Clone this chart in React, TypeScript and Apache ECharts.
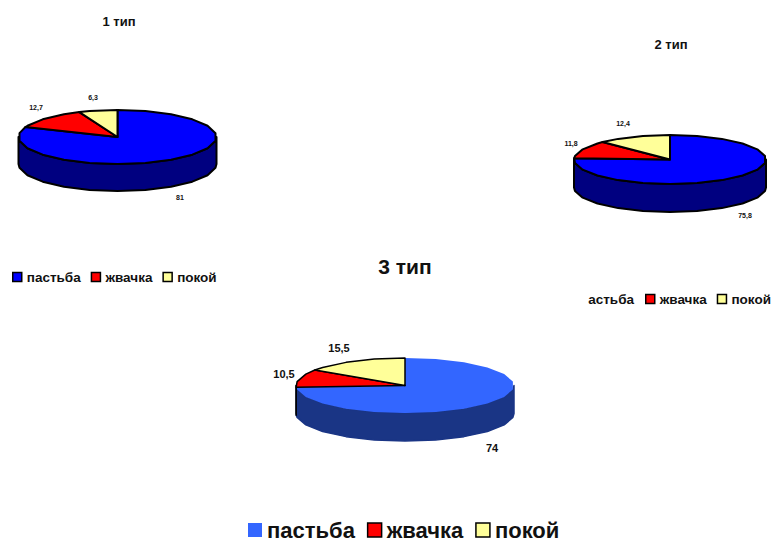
import React, { useEffect, useRef } from "react";
import * as echarts from "echarts";

const categories = ["пастьба", "жвачка", "покой"];
const chartTitles = ["1 тип", "2 тип", "3 тип"];
const pastureValues = [81, 75.8, 74];
const cudValues = [12.7, 11.8, 10.5];
const restValues = [6.3, 12.4, 15.5];
const seriesValues = [pastureValues, cudValues, restValues];

const FONT = '"Liberation Sans", Arial, sans-serif';
const pieLayouts = [
  { cx: 117.5, cy: 137, rx: 99, ry: 27, depth: 27, wall: "#000080", top: ["#0000FF", "#FF0000", "#FFFF99"], stroke: ["#000", "#000", "#000"], lw: 2, fs: 7,
    labels: [[180, 197], [36, 107], [93, 97]] },
  { cx: 670, cy: 159.5, rx: 96, ry: 24.5, depth: 28, wall: "#000080", top: ["#0000FF", "#FF0000", "#FFFF99"], stroke: ["#000", "#000", "#000"], lw: 2, fs: 7,
    labels: [[745, 215], [571, 143], [623, 123]] },
  { cx: 405, cy: 385.5, rx: 109, ry: 27.5, depth: 28, wall: "#1A3585", top: ["#3366FF", "#FF0000", "#FFFF99"], stroke: [null, "#000", "#000"], lw: 1.5, fs: 11,
    labels: [[492, 448], [284, 374], [339, 348]] },
];
const STEP = 360 / 22;

function pt(l: any, deg: number, dy = 0): number[] {
  const a = (deg * Math.PI) / 180;
  return [l.cx + l.rx * Math.sin(a), l.cy - l.ry * Math.cos(a) + dy];
}
function arcAngles(a: number, b: number): number[] {
  const out = [a];
  let k = Math.floor(a / STEP) + 1;
  while (k * STEP < b) {
    out.push(k * STEP);
    k++;
  }
  out.push(b);
  return out;
}

function makeRenderItem(catIdx: number) {
  return (_p: any, api: any) => {
    const chart = api.value(0) as number;
    const value = api.value(1) as number;
    const l = pieLayouts[chart];
    const total = seriesValues.reduce((s, v) => s + v[chart], 0);
    let before = 0;
    for (let i = 0; i < catIdx; i++) before += seriesValues[i][chart];
    const start = (before / total) * 360;
    const end = ((before + value) / total) * 360;
    const children: any[] = [];
    const wa = Math.max(start, 90);
    const wb = Math.min(end, 270);
    if (wb > wa) {
      const angs = arcAngles(wa, wb);
      const pts = [...angs.map((d) => pt(l, d)), ...angs.slice().reverse().map((d) => pt(l, d, l.depth))];
      children.push({
        type: "polygon",
        shape: { points: pts },
        style: { fill: l.wall, stroke: l.stroke[catIdx] || l.wall, lineWidth: l.lw, lineJoin: "round" },
      });
    }
    const topPts = [[l.cx, l.cy], ...arcAngles(start, end).map((d) => pt(l, d))];
    children.push({
      type: "polygon",
      shape: { points: topPts },
      style: { fill: l.top[catIdx], stroke: l.stroke[catIdx] || "none", lineWidth: l.lw, lineJoin: "round" },
    });
    const [lx, ly] = l.labels[catIdx];
    children.push({
      type: "text",
      x: lx,
      y: ly,
      z2: 10,
      style: {
        text: String(value).replace(".", ","),
        fill: "#111",
        font: `bold ${l.fs}px ${FONT}`,
        align: "center",
        verticalAlign: "middle",
      },
    });
    return { type: "group", children };
  };
}

function legendData(chart: number, names: string[], borderFirst: boolean) {
  return names.map((name) => {
    const i = categories.indexOf(name);
    const noBorder = i === 0 && !borderFirst;
    return {
      name,
      icon: "rect",
      itemStyle: {
        color: pieLayouts[chart].top[i],
        borderColor: noBorder ? pieLayouts[chart].top[i] : "#000",
        borderWidth: noBorder ? 0 : 1.5,
      },
    };
  });
}

export default function App() {
  const ref = useRef<HTMLDivElement>(null);
  useEffect(() => {
    const chart = echarts.init(ref.current!, null, { renderer: "svg" });
    const titleStyle = (size: number) => ({ fontFamily: FONT, fontWeight: "bold" as const, fontSize: size, color: "#111" });
    chart.setOption({
      animation: false,
      backgroundColor: "#fff",
      title: [
        { text: chartTitles[0], left: 119, top: 15, textAlign: "center", padding: 0, textStyle: titleStyle(13) },
        { text: chartTitles[1], left: 671, top: 38, textAlign: "center", padding: 0, textStyle: titleStyle(13) },
        { text: chartTitles[2], left: 405, top: 256, textAlign: "center", padding: 0, textStyle: titleStyle(21) },
      ],
      legend: [
        {
          left: 12, top: 270, padding: 0, itemWidth: 9, itemHeight: 9, itemGap: 10, selectedMode: false,
          textStyle: { fontFamily: FONT, fontWeight: "bold", fontSize: 13.5, color: "#111" },
          data: legendData(0, categories, true),
        },
        {
          left: 645, top: 292, padding: 0, itemWidth: 9, itemHeight: 9, itemGap: 10, selectedMode: false,
          textStyle: { fontFamily: FONT, fontWeight: "bold", fontSize: 13.5, color: "#111" },
          data: legendData(1, categories.slice(1), true),
        },
        {
          left: 248, top: 519, padding: 0, itemWidth: 14, itemHeight: 14, itemGap: 12, selectedMode: false,
          textStyle: { fontFamily: FONT, fontWeight: "bold", fontSize: 22, color: "#111" },
          data: legendData(2, categories, false),
        },
      ],
      graphic: [
        {
          type: "text",
          x: 634,
          y: 299,
          style: { text: categories[0].slice(1), fill: "#111", font: `bold 13.5px ${FONT}`, align: "right", verticalAlign: "middle" },
        },
      ],
      series: categories.map((name, c) => ({
        type: "custom",
        name,
        coordinateSystem: "none",
        z: c,
        renderItem: makeRenderItem(c),
        data: seriesValues[c].map((v, i) => [i, v]),
      })),
    });
    return () => chart.dispose();
  }, []);
  return <div ref={ref} style={{ position: "absolute", left: 0, top: 0, width: 773, height: 541 }} />;
}
